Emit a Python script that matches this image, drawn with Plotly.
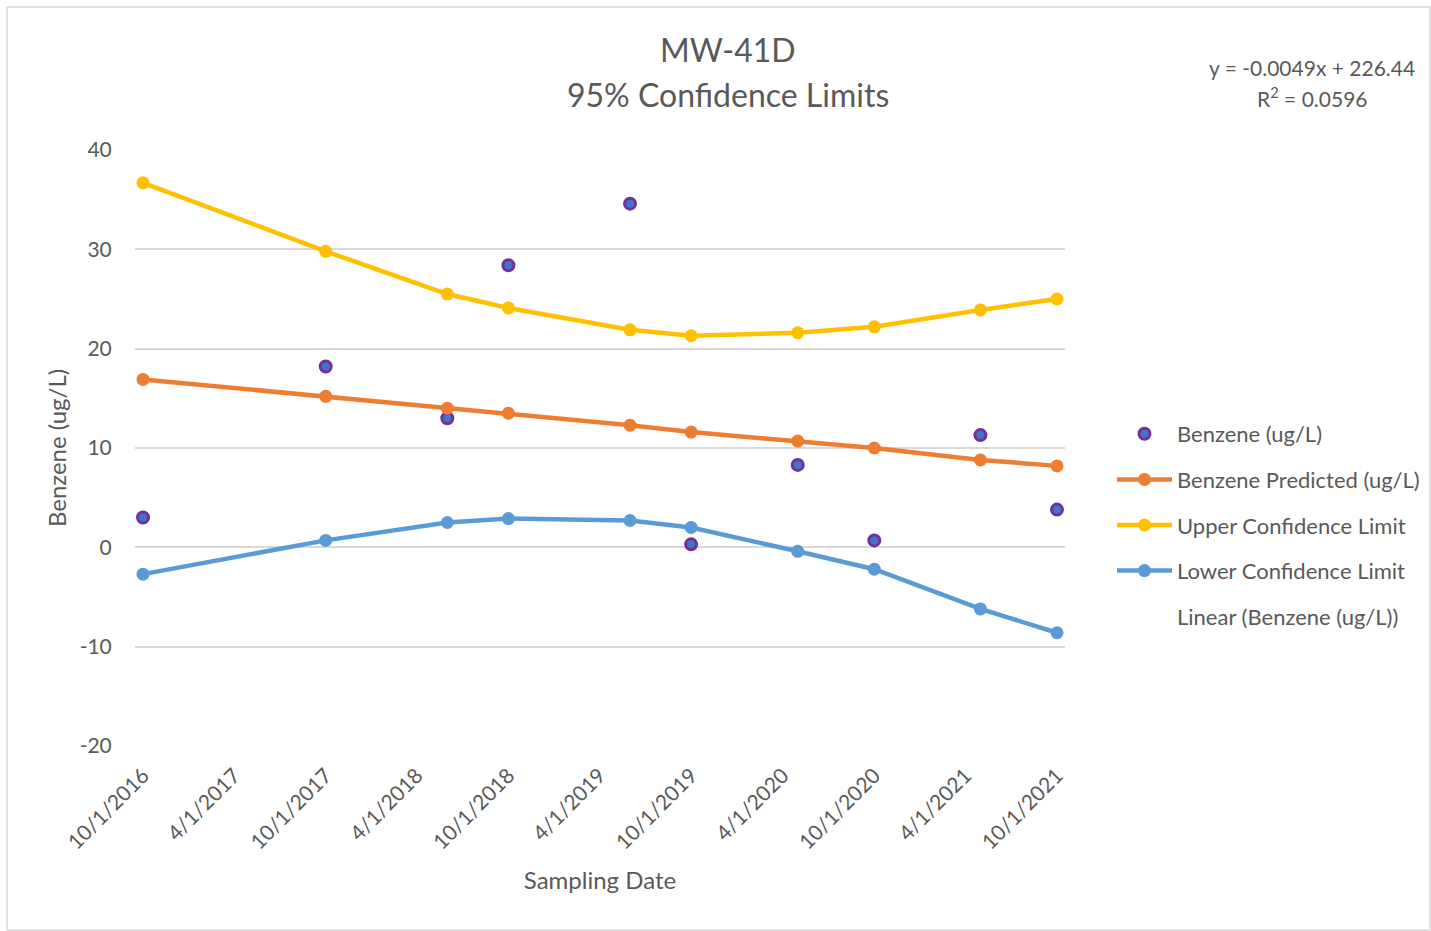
import plotly.graph_objects as go

# Sampling dates for MW-41D
dates = [
    "2016-10-01", "2017-10-01", "2018-06-01", "2018-10-01", "2019-06-01",
    "2019-10-01", "2020-05-01", "2020-10-01", "2021-05-01", "2021-10-01",
]

benzene = [3.0, 18.2, 13.0, 28.4, 34.6, 0.3, 8.3, 0.7, 11.3, 3.8]
predicted = [16.9, 15.2, 14.0, 13.5, 12.3, 11.6, 10.7, 10.0, 8.8, 8.2]
upper = [36.7, 29.8, 25.5, 24.1, 21.9, 21.3, 21.6, 22.2, 23.9, 25.0]
lower = [-2.7, 0.7, 2.5, 2.9, 2.7, 2.0, -0.4, -2.2, -6.2, -8.6]

tick_dates = [
    "2016-10-01", "2017-04-01", "2017-10-01", "2018-04-01", "2018-10-01",
    "2019-04-01", "2019-10-01", "2020-04-01", "2020-10-01", "2021-04-01",
    "2021-10-01",
]
tick_labels = [
    "10/1/2016", "4/1/2017", "10/1/2017", "4/1/2018", "10/1/2018",
    "4/1/2019", "10/1/2019", "4/1/2020", "10/1/2020", "4/1/2021",
    "10/1/2021",
]
y_ticks = [-20, -10, 0, 10, 20, 30, 40]
y_tick_labels = ["-20", "-10", "0", "10", "20", "30", "40"]

title_lines = ["MW-41D", "95% Confidence Limits"]
equation_lines = ["y = -0.0049x + 226.44", "R<sup>2</sup> = 0.0596"]

FONT = "Lato"
GREY = "#595959"

fig = go.Figure()

fig.add_trace(go.Scatter(
    x=dates, y=benzene, mode="markers", name="Benzene (ug/L)",
    legendgroup="a",
    marker=dict(size=11, color="#4472C4", line=dict(color="#7030A0", width=3)),
))
fig.add_trace(go.Scatter(
    x=dates, y=predicted, mode="lines+markers", name="Benzene Predicted (ug/L)",
    legendgroup="b",
    line=dict(color="#ED7D31", width=4.5),
    marker=dict(size=13, color="#ED7D31"),
))
fig.add_trace(go.Scatter(
    x=dates, y=upper, mode="lines+markers", name="Upper Confidence Limit",
    legendgroup="c",
    line=dict(color="#FFC000", width=4.5),
    marker=dict(size=13, color="#FFC000"),
))
fig.add_trace(go.Scatter(
    x=dates, y=lower, mode="lines+markers", name="Lower Confidence Limit",
    legendgroup="d",
    line=dict(color="#5B9BD5", width=4.5),
    marker=dict(size=13, color="#5B9BD5"),
))
# Linear trendline entry (line hidden)
fig.add_trace(go.Scatter(
    x=[None], y=[None], mode="lines", name="Linear (Benzene (ug/L))",
    legendgroup="e",
    line=dict(color="rgba(0,0,0,0)", width=2),
))

W, H = 1431, 931
L, R, T, B = 135, 1065, 150, 746


def px(xp):
    return (xp - L) / (R - L)


def py(yp):
    return (B - yp) / (B - T)


ann = []
for text, yy in zip(title_lines, (50, 95)):
    ann.append(dict(text=text, x=px(728), y=py(yy), xref="paper", yref="paper",
                    showarrow=False, xanchor="center", yanchor="middle",
                    font=dict(family=FONT, size=32, color=GREY)))
for text, yy in zip(equation_lines, (68, 97)):
    ann.append(dict(text=text, x=px(1312), y=py(yy), xref="paper", yref="paper",
                    showarrow=False, xanchor="center", yanchor="middle",
                    font=dict(family=FONT, size=21, color=GREY)))

fig.update_layout(
    width=W, height=H,
    margin=dict(l=L, r=W - R, t=T, b=H - B, autoexpand=False),
    paper_bgcolor="white", plot_bgcolor="white",
    font=dict(family=FONT, color=GREY),
    showlegend=True,
    legend=dict(
        x=px(1112), y=py(525), xanchor="left", yanchor="middle",
        font=dict(family=FONT, size=22, color=GREY),
        tracegroupgap=14, itemwidth=55, bgcolor="rgba(0,0,0,0)",
    ),
    annotations=ann,
    shapes=[dict(type="rect", xref="paper", yref="paper",
                 x0=px(7), x1=px(1430), y0=py(930), y1=py(7),
                 line=dict(color="#D9D9D9", width=1.5), layer="below")],
)

fig.update_xaxes(
    type="date",
    range=["2016-09-15", "2021-10-17"],
    tickvals=tick_dates, ticktext=tick_labels, tickangle=-45,
    tickfont=dict(family=FONT, size=21, color=GREY),
    showgrid=False, zeroline=False, showline=False,
    ticks="outside", ticklen=8, tickcolor="rgba(0,0,0,0)",
    title=dict(text="Sampling Date", font=dict(family=FONT, size=24, color=GREY),
               standoff=19),
)
fig.update_yaxes(
    range=[-20, 40], tickvals=y_ticks, ticktext=y_tick_labels,
    tickfont=dict(family=FONT, size=21, color=GREY),
    showgrid=True, gridcolor="#D9D9D9", gridwidth=1.5,
    zeroline=False, showline=False,
    ticks="outside", ticklen=18, tickcolor="rgba(0,0,0,0)",
    title=dict(text="Benzene (ug/L)", font=dict(family=FONT, size=24, color=GREY),
               standoff=6),
)

fig.write_html("out.html")
